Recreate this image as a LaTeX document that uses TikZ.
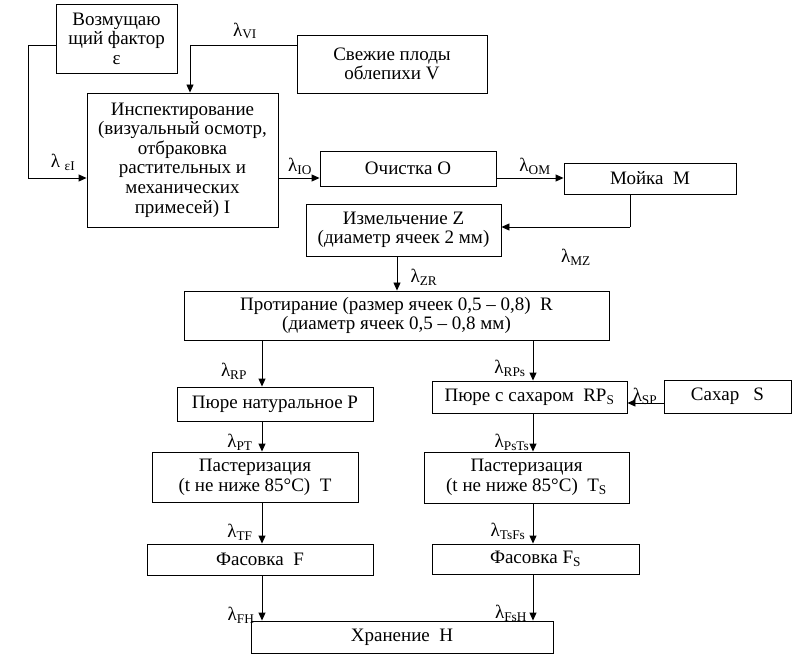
\documentclass[tikz,border=0pt]{standalone}
\usepackage{fontspec}
\setmainfont{Liberation Serif}
\usetikzlibrary{arrows.meta}
\begin{document}
\begin{tikzpicture}[x=1pt,y=-1pt,
  box/.style={draw, line width=0.9pt, align=center, inner sep=0pt, font=\fontsize{19}{19.6}\selectfont},
  arr/.style={draw, line width=0.9pt, -{Triangle[length=8pt,width=7pt]}},
  ln/.style={draw, line width=0.9pt},
  lbl/.style={font=\fontsize{19}{19}\selectfont, inner sep=0pt}]
\useasboundingbox (0,0) rectangle (811,668);
% boxes
\node[box, minimum width=121pt, minimum height=69pt] (eps) at (116.5,38.5) {Возмущаю\\щий фактор\\ε};
\node[box, minimum width=190pt, minimum height=58pt] (V) at (392,64) {Свежие плоды\\облепихи V};
\node[box, minimum width=191pt, minimum height=134pt] (I) at (182.5,160) {Инспектирование\\(визуальный осмотр,\\отбраковка\\растительных и\\механических\\примесей) I};
\node[box, minimum width=176pt, minimum height=35pt] (O) at (408,168.5) {Очистка О};
\node[box, minimum width=172pt, minimum height=31pt] (M) at (650,178.5) {Мойка\ \ M};
\node[box, minimum width=195pt, minimum height=52pt] (Z) at (403.5,230) {Измельчение Z\\(диаметр ячеек 2 мм)};
\node[box, minimum width=425pt, minimum height=49pt] (R) at (396.5,315.5) {Протирание (размер ячеек 0,5 – 0,8)\ \ R\\(диаметр ячеек 0,5 – 0,8 мм)};
\node[box, minimum width=196pt, minimum height=34pt] (P) at (275,404) {Пюре натуральное Р};
\node[box, minimum width=195pt, minimum height=32pt] (RPs) at (529.5,397) {Пюре с сахаром\ \ RP\textsubscript{S}};
\node[box, minimum width=127pt, minimum height=33pt] (S) at (727.5,396.5) {Сахар\ \ \ S};
\node[box, minimum width=206pt, minimum height=50pt] (T) at (255,477) {Пастеризация\\(t не ниже 85°С)\ \ T};
\node[box, minimum width=205pt, minimum height=51pt] (Ts) at (526.5,477.5) {Пастеризация\\(t не ниже 85°С)\ \ T\textsubscript{S}};
\node[box, minimum width=226pt, minimum height=31pt] (F) at (260,559.5) {Фасовка\ \ F};
\node[box, minimum width=207pt, minimum height=30pt] (Fs) at (535.5,559) {Фасовка F\textsubscript{S}};
\node[box, minimum width=302pt, minimum height=32pt] (H) at (402,637) {Хранение\ \ H};
% routing coordinates
\coordinate (c1) at (28,45);
\coordinate (c2) at (28,178);
\coordinate (v1) at (190,45);
\coordinate (oy) at (0,178);
\coordinate (m1) at (630,227);
\coordinate (zx) at (397,0);
\coordinate (lx) at (262,0);
\coordinate (rx) at (533,0);
\coordinate (sy) at (0,403);
% connectors
\draw[ln] (eps.west |- c1) -- (c1) -- (c2);
\draw[arr] (c2) -- (c2 -| I.west);
\draw[ln] (V.west |- v1) -- (v1);
\draw[arr] (v1) -- (v1 |- I.north);
\draw[arr] (I.east |- oy) -- (O.west |- oy);
\draw[arr] (O.east |- oy) -- (M.west |- oy);
\draw[ln] (M.south -| m1) -- (m1);
\draw[arr] (m1) -- (m1 -| Z.east);
\draw[arr] (zx |- Z.south) -- (zx |- R.north);
\draw[arr] (lx |- R.south) -- (lx |- P.north);
\draw[arr] (rx |- R.south) -- (rx |- RPs.north);
\draw[arr] (S.west |- sy) -- (RPs.east |- sy);
\draw[arr] (lx |- P.south) -- (lx |- T.north);
\draw[arr] (rx |- RPs.south) -- (rx |- Ts.north);
\draw[arr] (lx |- T.south) -- (lx |- F.north);
\draw[arr] (rx |- Ts.south) -- (rx |- Fs.north);
\draw[arr] (lx |- F.south) -- (lx |- H.north);
\draw[arr] (rx |- Fs.south) -- (rx |- H.north);
% labels
\node[lbl] (lEI) at (63,162) {λ\ \textsubscript{εI}};
\node[lbl] (lVI) at (245,31) {λ\textsubscript{VI}};
\node[lbl] (lIO) at (300,166) {λ\textsubscript{IO}};
\node[lbl] (lOM) at (535,166) {λ\textsubscript{OM}};
\node[lbl] (lMZ) at (576,257) {λ\textsubscript{MZ}};
\node[lbl] (lZR) at (424,277) {λ\textsubscript{ZR}};
\node[lbl] (lRP) at (234,371) {λ\textsubscript{RP}};
\node[lbl] (lRPs) at (510,368) {λ\textsubscript{RPs}};
\node[lbl] (lSP) at (645,396) {λ\textsubscript{SP}};
\node[lbl] (lPT) at (240,442) {λ\textsubscript{PT}};
\node[lbl] (lPsTs) at (512,442) {λ\textsubscript{PsTs}};
\node[lbl] (lTF) at (240,532) {λ\textsubscript{TF}};
\node[lbl] (lTsFs) at (508,531) {λ\textsubscript{TsFs}};
\node[lbl] (lFH) at (241,615) {λ\textsubscript{FH}};
\node[lbl] (lFsH) at (511,613) {λ\textsubscript{FsH}};
\end{tikzpicture}
\end{document}
